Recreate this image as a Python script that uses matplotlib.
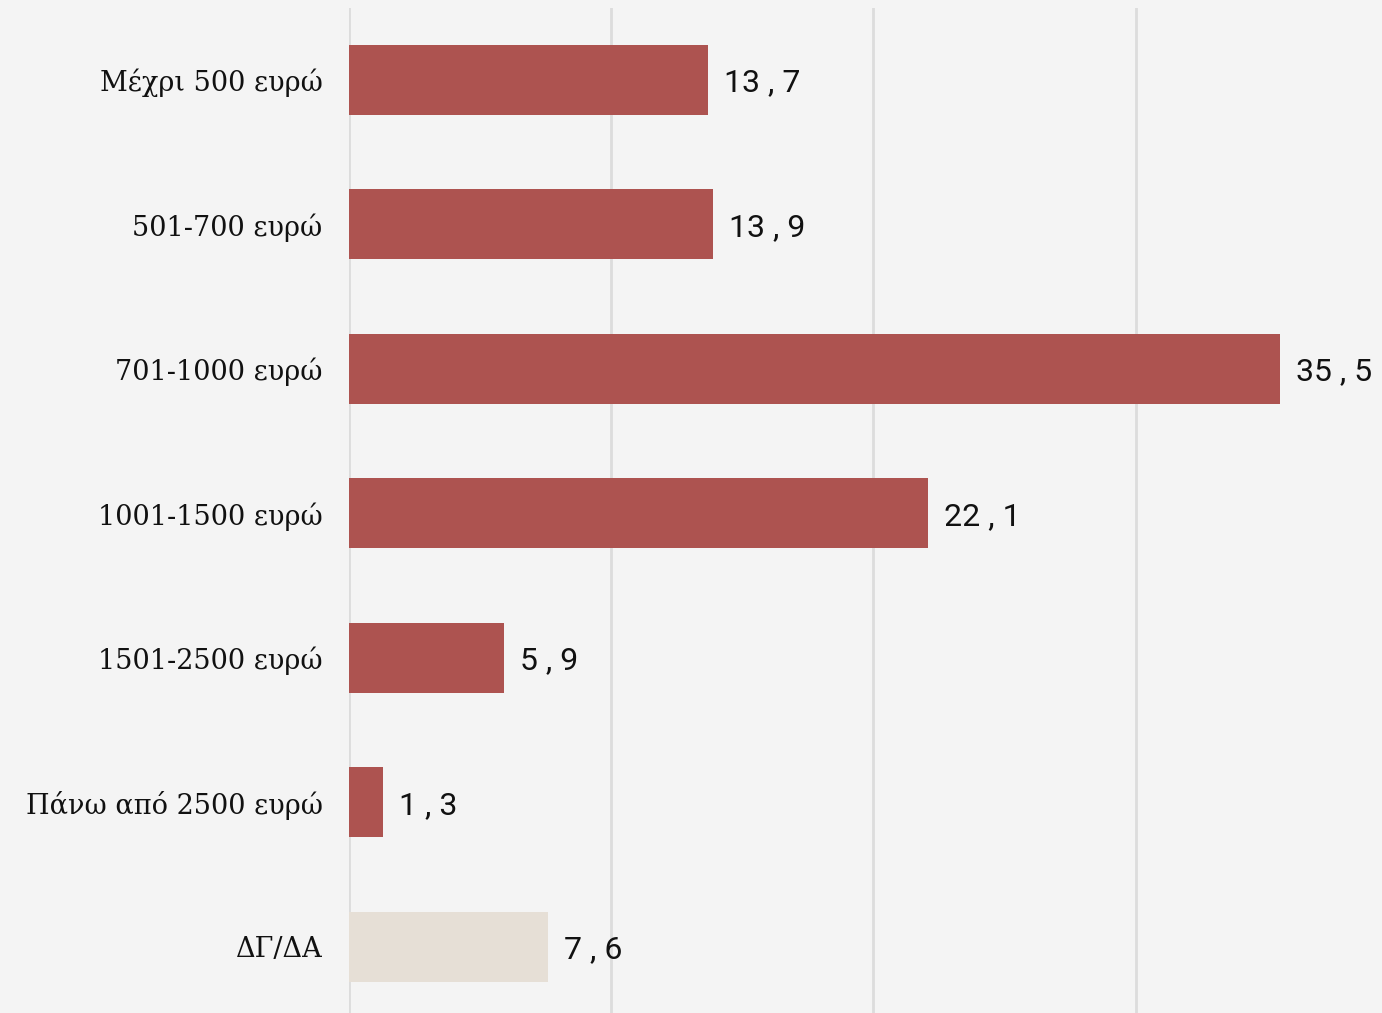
import matplotlib
matplotlib.use("Agg")
import matplotlib.pyplot as plt

categories = ["Μέχρι 500 ευρώ", "501-700 ευρώ", "701-1000 ευρώ", "1001-1500 ευρώ",
              "1501-2500 ευρώ", "Πάνω από 2500 ευρώ", "ΔΓ/ΔΑ"]
values = [13.7, 13.9, 35.5, 22.1, 5.9, 1.3, 7.6]
value_labels = ["13 , 7", "13 , 9", "35 , 5", "22 , 1", "5 , 9", "1 , 3", "7 , 6"]
colors = ["#ad5350"] * 6 + ["#e6dfd6"]

bg = "#f4f4f4"
fig = plt.figure(figsize=(13.82, 10.13), dpi=100, facecolor=bg)
ax = fig.add_axes([349 / 1382, 0, 1 - 349 / 1382, 1 - 8 / 1013])
ax.set_facecolor(bg)

y = list(range(len(categories)))
ax.barh(y, values, height=0.484, color=colors, zorder=3)
ax.set_ylim(6.457, -0.498)
ax.set_xlim(0, 39.4)
ax.set_xticks([0, 10, 20, 30])
ax.xaxis.grid(True, color="#dcdcdc", linewidth=2, zorder=0)
ax.tick_params(axis="x", length=0, labelbottom=False)
ax.tick_params(axis="y", length=0, pad=19)
ax.set_yticks(y)
ax.set_yticklabels(categories, fontsize=19.5, family="DejaVu Serif", color="#111111")
for lbl in ax.get_yticklabels():
    lbl.set_y(lbl.get_position()[1])
for s in ax.spines.values():
    s.set_visible(False)

for yi, v, lab in zip(y, values, value_labels):
    ax.annotate(lab, (v, yi), xytext=(16, -3), textcoords="offset pixels",
                va="center", ha="left", fontsize=23, family="Roboto", color="#111111")

fig.savefig("out.png", dpi=100, facecolor=bg)
